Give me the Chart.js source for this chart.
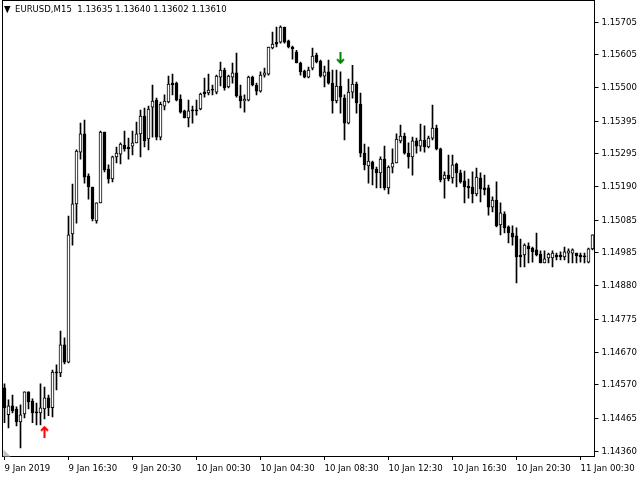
<!DOCTYPE html>
<html>
<head>
<meta charset="utf-8">
<script src="https://cdn.jsdelivr.net/npm/chart.js@4"></script>
<style>
  html, body { margin: 0; padding: 0; background: #fff; }
  canvas { display: block; }
</style>
</head>
<body>
<canvas id="chart" width="640" height="480"></canvas>
<script>
// EURUSD M15 bars, 9 Jan 2019 12:30 onwards
const symbolTitle = "EURUSD,M15  1.13635 1.13640 1.13602 1.13610";

const opens = [
  1.14560, 1.14476, 1.14504, 1.14494, 1.14454, 1.14479, 1.14548, 1.14519, 1.14482, 1.14482,
  1.14494, 1.14529, 1.14498, 1.14607, 1.14607, 1.14695, 1.14641, 1.15042, 1.15136, 1.15298,
  1.15355, 1.15223, 1.15189, 1.15083, 1.15139, 1.15361, 1.15245, 1.15214, 1.15283, 1.15292,
  1.15320, 1.15308, 1.15317, 1.15327, 1.15355, 1.15411, 1.15339, 1.15439, 1.15461, 1.15345,
  1.15442, 1.15455, 1.15508, 1.15514, 1.15464, 1.15427, 1.15405, 1.15430, 1.15427, 1.15433,
  1.15480, 1.15483, 1.15492, 1.15486, 1.15533, 1.15555, 1.15502, 1.15533, 1.15546, 1.15474,
  1.15458, 1.15461, 1.15533, 1.15508, 1.15489, 1.15539, 1.15542, 1.15624, 1.15636, 1.15642,
  1.15689, 1.15646, 1.15627, 1.15611, 1.15577, 1.15552, 1.15533, 1.15561, 1.15602, 1.15583,
  1.15536, 1.15549, 1.15514, 1.15458, 1.15505, 1.15467, 1.15389, 1.15486, 1.15511, 1.15448,
  1.15295, 1.15255, 1.15267, 1.15245, 1.15233, 1.15276, 1.15186, 1.15251, 1.15264, 1.15333,
  1.15348, 1.15295, 1.15283, 1.15333, 1.15317, 1.15336, 1.15314, 1.15342, 1.15373, 1.15308,
  1.15214, 1.15226, 1.15217, 1.15261, 1.15233, 1.15208, 1.15192, 1.15189, 1.15167, 1.15217,
  1.15186, 1.15186, 1.15126, 1.15148, 1.15070, 1.15104, 1.15064, 1.15045, 1.15036, 1.14970,
  1.14976, 1.15004, 1.14998, 1.14992, 1.14979, 1.14951, 1.14967, 1.14967, 1.14970, 1.14976,
  1.14970, 1.14982, 1.14982, 1.14982, 1.14976, 1.14973, 1.14954, 1.14995
];
const highs = [
  1.14573, 1.14523, 1.14538, 1.14501, 1.14507, 1.14548, 1.14548, 1.14526, 1.14513, 1.14573,
  1.14563, 1.14538, 1.14616, 1.14632, 1.14738, 1.14717, 1.15098, 1.15198, 1.15305, 1.15389,
  1.15398, 1.15230, 1.15189, 1.15139, 1.15364, 1.15361, 1.15258, 1.15286, 1.15314, 1.15327,
  1.15364, 1.15342, 1.15364, 1.15392, 1.15430, 1.15436, 1.15442, 1.15508, 1.15467, 1.15455,
  1.15477, 1.15536, 1.15542, 1.15517, 1.15477, 1.15430, 1.15461, 1.15442, 1.15461, 1.15483,
  1.15530, 1.15542, 1.15508, 1.15539, 1.15580, 1.15561, 1.15539, 1.15577, 1.15608, 1.15508,
  1.15477, 1.15536, 1.15536, 1.15514, 1.15549, 1.15561, 1.15627, 1.15674, 1.15689, 1.15693,
  1.15689, 1.15649, 1.15630, 1.15617, 1.15580, 1.15555, 1.15564, 1.15624, 1.15608, 1.15586,
  1.15567, 1.15586, 1.15555, 1.15555, 1.15549, 1.15477, 1.15527, 1.15570, 1.15517, 1.15483,
  1.15323, 1.15314, 1.15270, 1.15251, 1.15283, 1.15317, 1.15255, 1.15308, 1.15355, 1.15383,
  1.15358, 1.15327, 1.15345, 1.15342, 1.15386, 1.15380, 1.15348, 1.15445, 1.15383, 1.15311,
  1.15236, 1.15289, 1.15289, 1.15264, 1.15242, 1.15239, 1.15214, 1.15236, 1.15248, 1.15233,
  1.15226, 1.15195, 1.15158, 1.15205, 1.15139, 1.15111, 1.15067, 1.15067, 1.15061, 1.15026,
  1.15011, 1.15014, 1.15001, 1.15045, 1.14989, 1.14989, 1.14982, 1.14989, 1.14982, 1.14986,
  1.15001, 1.14995, 1.14995, 1.14982, 1.14982, 1.14982, 1.14998, 1.15039
];
const lows = [
  1.14451, 1.14435, 1.14482, 1.14441, 1.14372, 1.14466, 1.14494, 1.14451, 1.14444, 1.14444,
  1.14463, 1.14473, 1.14469, 1.14554, 1.14595, 1.14635, 1.14638, 1.15007, 1.15076, 1.15276,
  1.15201, 1.15151, 1.15083, 1.15076, 1.15139, 1.15236, 1.15201, 1.15205, 1.15264, 1.15261,
  1.15301, 1.15276, 1.15289, 1.15327, 1.15283, 1.15314, 1.15305, 1.15345, 1.15336, 1.15336,
  1.15430, 1.15452, 1.15477, 1.15458, 1.15420, 1.15405, 1.15377, 1.15389, 1.15414, 1.15430,
  1.15470, 1.15477, 1.15477, 1.15480, 1.15505, 1.15492, 1.15499, 1.15514, 1.15470, 1.15436,
  1.15423, 1.15458, 1.15505, 1.15477, 1.15486, 1.15533, 1.15539, 1.15621, 1.15627, 1.15639,
  1.15639, 1.15624, 1.15589, 1.15577, 1.15539, 1.15530, 1.15530, 1.15555, 1.15577, 1.15533,
  1.15502, 1.15511, 1.15420, 1.15452, 1.15420, 1.15336, 1.15386, 1.15467, 1.15420, 1.15283,
  1.15242, 1.15201, 1.15195, 1.15186, 1.15186, 1.15180, 1.15167, 1.15233, 1.15264, 1.15327,
  1.15292, 1.15248, 1.15226, 1.15295, 1.15301, 1.15298, 1.15311, 1.15336, 1.15305, 1.15205,
  1.15154, 1.15208, 1.15201, 1.15189, 1.15201, 1.15139, 1.15154, 1.15139, 1.15161, 1.15142,
  1.15164, 1.15101, 1.15111, 1.15064, 1.15039, 1.15045, 1.15014, 1.15007, 1.14889, 1.14939,
  1.14939, 1.14951, 1.14954, 1.14973, 1.14951, 1.14951, 1.14951, 1.14939, 1.14961, 1.14961,
  1.14961, 1.14951, 1.14951, 1.14951, 1.14954, 1.14951, 1.14951, 1.14992
];
const closes = [
  1.14498, 1.14504, 1.14488, 1.14454, 1.14476, 1.14548, 1.14516, 1.14482, 1.14483, 1.14498,
  1.14529, 1.14498, 1.14610, 1.14610, 1.14695, 1.14641, 1.15039, 1.15136, 1.15301, 1.15355,
  1.15220, 1.15189, 1.15089, 1.15139, 1.15361, 1.15242, 1.15214, 1.15283, 1.15295, 1.15323,
  1.15308, 1.15314, 1.15327, 1.15355, 1.15411, 1.15333, 1.15433, 1.15458, 1.15345, 1.15448,
  1.15458, 1.15511, 1.15514, 1.15461, 1.15423, 1.15405, 1.15427, 1.15427, 1.15430, 1.15480,
  1.15486, 1.15492, 1.15493, 1.15536, 1.15555, 1.15499, 1.15536, 1.15546, 1.15474, 1.15458,
  1.15464, 1.15533, 1.15508, 1.15489, 1.15539, 1.15546, 1.15627, 1.15636, 1.15642, 1.15689,
  1.15642, 1.15627, 1.15621, 1.15577, 1.15549, 1.15533, 1.15555, 1.15599, 1.15580, 1.15536,
  1.15549, 1.15514, 1.15458, 1.15505, 1.15470, 1.15389, 1.15486, 1.15511, 1.15452, 1.15295,
  1.15258, 1.15270, 1.15245, 1.15233, 1.15276, 1.15186, 1.15251, 1.15264, 1.15339, 1.15348,
  1.15295, 1.15283, 1.15333, 1.15317, 1.15336, 1.15314, 1.15342, 1.15373, 1.15308, 1.15211,
  1.15226, 1.15214, 1.15258, 1.15233, 1.15205, 1.15189, 1.15186, 1.15167, 1.15220, 1.15183,
  1.15180, 1.15126, 1.15148, 1.15067, 1.15108, 1.15061, 1.15045, 1.15032, 1.14970, 1.14976,
  1.15007, 1.14995, 1.14986, 1.14976, 1.14951, 1.14964, 1.14979, 1.14982, 1.14976, 1.14970,
  1.14986, 1.14989, 1.14992, 1.14973, 1.14970, 1.14970, 1.14995, 1.15039
];

// price axis labels and time axis labels (one every 16 bars = 4 hours)
const priceTicks = [1.15705, 1.15605, 1.15500, 1.15395, 1.15295, 1.15190, 1.15085,
                    1.14985, 1.14880, 1.14775, 1.14670, 1.14570, 1.14465, 1.14360];
const timeTicks = ["9 Jan 2019", "9 Jan 16:30", "9 Jan 20:30", "10 Jan 00:30", "10 Jan 04:30",
                   "10 Jan 08:30", "10 Jan 12:30", "10 Jan 16:30", "10 Jan 20:30", "11 Jan 00:30"];
const barsPerTimeTick = 16;

// signal arrows: bar index and price
const buyArrows = [{ bar: 10, price: 1.14423 }];
const sellArrows = [{ bar: 84, price: 1.15592 }];

const priceMin = 1.14347;
const priceMax = 1.15771;

const FONT = { family: "'DejaVu Sans Condensed', 'DejaVu Sans'", size: 9.5 };

// bar time labels, 15 minutes apart
const labels = opens.map((_, i) => {
  const d = new Date(Date.UTC(2019, 0, 9, 12, 30) + i * 15 * 60000);
  return d.getUTCDate() + " Jan " + String(d.getUTCHours()).padStart(2, "0") + ":" +
         String(d.getUTCMinutes()).padStart(2, "0");
});

function arrowImage(color, up) {
  const c = document.createElement("canvas");
  c.width = 9; c.height = 12;
  const g = c.getContext("2d");
  g.strokeStyle = color;
  g.lineWidth = 2;
  g.beginPath();
  if (up) {
    g.moveTo(4.5, 1.5); g.lineTo(4.5, 12);
    g.moveTo(1, 5); g.lineTo(4.5, 1.5); g.lineTo(8, 5);
  } else {
    g.moveTo(4.5, 0); g.lineTo(4.5, 10.5);
    g.moveTo(1, 7); g.lineTo(4.5, 10.5); g.lineTo(8, 7);
  }
  g.stroke();
  return c;
}

function arrowData(list) {
  const d = opens.map(() => null);
  list.forEach(a => { d[a.bar] = a.price; });
  return d;
}

const bodyColors = opens.map((o, i) => (closes[i] - o > 0.00006 ? "#ffffff" : "#000000"));

// chart frame, title and corner marker
const framePlugin = {
  id: "frame",
  afterDraw(chart) {
    const { ctx, chartArea: a } = chart;
    const l = Math.floor(a.left) + 0.5, r = Math.floor(a.right) + 0.5;
    const t = Math.floor(a.top) - 0.5, b = Math.floor(a.bottom) + 0.5;
    ctx.save();
    ctx.strokeStyle = "#000";
    ctx.lineWidth = 1;
    ctx.strokeRect(l, t, r - l, b - t);
    ctx.fillStyle = "#c0c0c0";
    ctx.beginPath();
    ctx.moveTo(l + 1, b - 7);
    ctx.lineTo(l + 1, b);
    ctx.lineTo(l + 8, b);
    ctx.closePath();
    ctx.fill();
    ctx.fillStyle = "#000";
    ctx.font = FONT.size + "px " + FONT.family;
    ctx.textBaseline = "middle";
    ctx.fillText("\u25BC", 4, 10);
    ctx.fillText(symbolTitle, 15, 10);
    ctx.restore();
  }
};

new Chart(document.getElementById("chart"), {
  type: "bar",
  data: {
    labels: labels,
    datasets: [
      {
        type: "line",
        data: arrowData(buyArrows),
        showLine: false,
        pointStyle: arrowImage("#ff0000", true),
        pointRadius: 6
      },
      {
        type: "line",
        data: arrowData(sellArrows),
        showLine: false,
        pointStyle: arrowImage("#008000", false),
        pointRadius: 6
      },
      {
        data: opens.map((o, i) => [o, closes[i]]),
        backgroundColor: bodyColors,
        borderColor: "#000",
        borderWidth: 1,
        borderSkipped: false,
        barThickness: 3,
        minBarLength: 1,
        grouped: false
      },
      {
        data: lows.map((l, i) => [l, highs[i]]),
        backgroundColor: "#000",
        borderWidth: 0,
        barThickness: 1,
        grouped: false
      }
    ]
  },
  options: {
    responsive: false,
    animation: false,
    events: [],
    layout: { autoPadding: false, padding: { left: 2.5, top: 1, right: 0, bottom: 0 } },
    plugins: { legend: { display: false }, tooltip: { enabled: false } },
    scales: {
      x: {
        type: "category",
        offset: true,
        grid: { offset: false, drawOnChartArea: false, tickLength: 4, color: "#000" },
        border: { display: false },
        ticks: {
          autoSkip: false,
          maxRotation: 0,
          align: "start",
          padding: 3,
          color: "#000",
          font: FONT,
          callback: (value) => timeTicks[value / barsPerTimeTick]
        },
        afterBuildTicks: (scale) => {
          scale.ticks = scale.ticks.filter(t => t.value % barsPerTimeTick === 0);
        },
        afterFit: (scale) => {
          scale.height = 24;
          scale.paddingLeft = 0;
          scale.paddingRight = 0;
        }
      },
      y: {
        type: "linear",
        position: "right",
        min: priceMin,
        max: priceMax,
        grid: { drawOnChartArea: false, tickLength: 4, color: "#000" },
        border: { display: false },
        ticks: {
          autoSkip: false,
          padding: 3,
          color: "#000",
          font: FONT,
          callback: (value) => value.toFixed(5)
        },
        afterBuildTicks: (scale) => {
          scale.ticks = priceTicks.map(v => ({ value: v }));
        },
        afterFit: (scale) => {
          scale.width = 45.5;
          scale.paddingTop = 0;
          scale.paddingBottom = 0;
        }
      }
    }
  },
  plugins: [framePlugin]
});
</script>
</body>
</html>
